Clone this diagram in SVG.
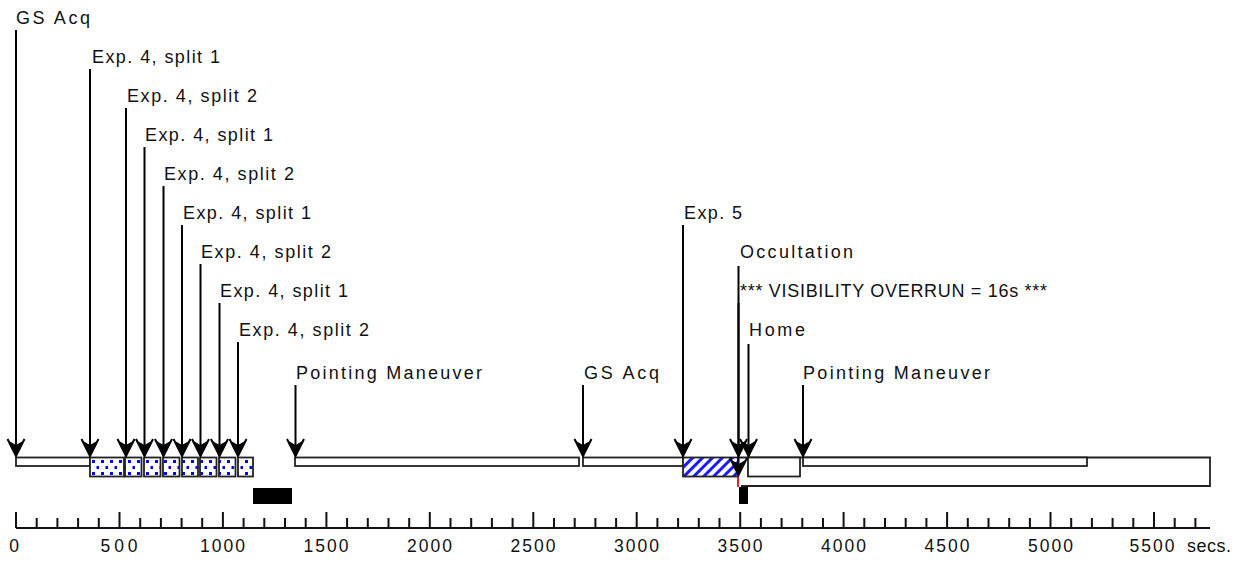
<svg xmlns="http://www.w3.org/2000/svg" width="1245" height="563" viewBox="0 0 1245 563">
<defs>
<style>
.lbl{font-family:"Liberation Sans",Arial,sans-serif;font-size:18px;fill:#111;}
.tk{font-family:"Liberation Sans",Arial,sans-serif;font-size:17.5px;fill:#111;text-anchor:middle;}
.bar{fill:#fff;stroke:#222;stroke-width:1.8;}
.ln{fill:none;stroke:#222;stroke-width:1.8;}
.arr{fill:none;stroke:#000;stroke-width:2;marker-end:url(#ah);}
.ax{fill:none;stroke:#111;stroke-width:2;}
</style>
<marker id="ah" markerUnits="userSpaceOnUse" markerWidth="24" markerHeight="24" viewBox="-20 -12 22 24" refX="0" refY="0" orient="auto" overflow="visible">
<path d="M-17,-8.5 L0,0 L-17,8.5" fill="none" stroke="#000" stroke-width="2"/>
<path d="M0,0 L-15,-7 L-11,0 L-15,7 Z" fill="#000"/>
</marker>
<pattern id="dots" patternUnits="userSpaceOnUse" width="9" height="12" x="90" y="458">
<rect width="9" height="12" fill="#fff"/>
<rect x="2" y="2" width="3" height="3" fill="#0000ff"/>
<rect x="6.5" y="8" width="3" height="3" fill="#0000ff"/>
</pattern>
<pattern id="hatch" patternUnits="userSpaceOnUse" width="7" height="7" patternTransform="rotate(45)">
<rect width="7" height="7" fill="#fff"/>
<rect width="3" height="7" fill="#1a1aff"/>
</pattern>
</defs>
<rect width="1245" height="563" fill="#fff"/>

<g id="bars">
<rect class="bar" x="16" y="457.5" width="74" height="8.5"/>
<rect class="bar" x="295" y="457.5" width="284" height="8.5"/>
<rect class="bar" x="583" y="457.5" width="100" height="8.5"/>
<path class="ln" d="M738,457.5 H1210 V486 H741"/>
<rect class="bar" x="803" y="457.5" width="284" height="8.5"/>
<rect class="bar" x="748" y="457.5" width="52" height="19"/>
<rect class="bar" x="90" y="457.5" width="34" height="19" style="fill:url(#dots)"/>
<rect class="bar" x="125" y="457.5" width="16.5" height="19" style="fill:url(#dots)"/>
<rect class="bar" x="144" y="457.5" width="16.5" height="19" style="fill:url(#dots)"/>
<rect class="bar" x="163" y="457.5" width="16.5" height="19" style="fill:url(#dots)"/>
<rect class="bar" x="182" y="457.5" width="16" height="19" style="fill:url(#dots)"/>
<rect class="bar" x="200" y="457.5" width="16.5" height="19" style="fill:url(#dots)"/>
<rect class="bar" x="219" y="457.5" width="16.5" height="19" style="fill:url(#dots)"/>
<rect class="bar" x="238" y="457.5" width="15" height="19" style="fill:url(#dots)"/>
<rect class="bar" x="683" y="457.5" width="55" height="19" style="fill:url(#hatch)"/>
<line x1="738" y1="476.5" x2="738" y2="487" stroke="#ff0000" stroke-width="1.8"/>
<rect x="253" y="488" width="39" height="16" fill="#000"/>
<rect x="739" y="487" width="9" height="17" fill="#000"/>
</g>

<g id="connectors">
<line class="arr" x1="16" y1="30" x2="16" y2="456"/>
<line class="arr" x1="90" y1="69" x2="90" y2="456"/>
<line class="arr" x1="126" y1="108" x2="126" y2="456"/>
<line class="arr" x1="144.5" y1="147" x2="144.5" y2="456"/>
<line class="arr" x1="163.5" y1="186" x2="163.5" y2="456"/>
<line class="arr" x1="182" y1="225" x2="182" y2="456"/>
<line class="arr" x1="200.5" y1="264" x2="200.5" y2="456"/>
<line class="arr" x1="219.5" y1="303" x2="219.5" y2="456"/>
<line class="arr" x1="238" y1="342" x2="238" y2="456"/>
<line class="arr" x1="295.5" y1="385" x2="295.5" y2="456"/>
<line class="arr" x1="583" y1="385" x2="583" y2="456"/>
<line class="arr" x1="683" y1="225" x2="683" y2="456"/>
<line class="arr" x1="738.5" y1="266" x2="738.5" y2="456"/>
<line class="arr" x1="738.5" y1="303" x2="738.5" y2="475"/>
<line class="arr" x1="748.5" y1="344" x2="748.5" y2="456"/>
<line class="arr" x1="803" y1="385" x2="803" y2="456"/>
</g>

<g id="n-gsacq1"><text class="lbl" x="16" y="24" textLength="74" lengthAdjust="spacing">GS Acq</text></g>
<g id="n-exp4-1a"><text class="lbl" x="92" y="63" textLength="128" lengthAdjust="spacing">Exp. 4, split 1</text></g>
<g id="n-exp4-2a"><text class="lbl" x="127" y="102" textLength="130" lengthAdjust="spacing">Exp. 4, split 2</text></g>
<g id="n-exp4-1b"><text class="lbl" x="145" y="141" textLength="128" lengthAdjust="spacing">Exp. 4, split 1</text></g>
<g id="n-exp4-2b"><text class="lbl" x="164" y="180" textLength="130" lengthAdjust="spacing">Exp. 4, split 2</text></g>
<g id="n-exp4-1c"><text class="lbl" x="183" y="219" textLength="128" lengthAdjust="spacing">Exp. 4, split 1</text></g>
<g id="n-exp4-2c"><text class="lbl" x="201" y="258" textLength="130" lengthAdjust="spacing">Exp. 4, split 2</text></g>
<g id="n-exp4-1d"><text class="lbl" x="220" y="297" textLength="128" lengthAdjust="spacing">Exp. 4, split 1</text></g>
<g id="n-exp4-2d"><text class="lbl" x="239" y="336" textLength="130" lengthAdjust="spacing">Exp. 4, split 2</text></g>
<g id="n-point1"><text class="lbl" x="296" y="379" textLength="186" lengthAdjust="spacing">Pointing Maneuver</text></g>
<g id="n-gsacq2"><text class="lbl" x="584" y="379" textLength="75" lengthAdjust="spacing">GS Acq</text></g>
<g id="n-exp5"><text class="lbl" x="684" y="219" textLength="58" lengthAdjust="spacing">Exp. 5</text></g>
<g id="n-occ"><text class="lbl" x="740" y="258" textLength="113" lengthAdjust="spacing">Occultation</text></g>
<g id="n-overrun"><text class="lbl" x="740" y="297" textLength="307" lengthAdjust="spacing">*** VISIBILITY OVERRUN = 16s ***</text></g>
<g id="n-home"><text class="lbl" x="749" y="336" textLength="56" lengthAdjust="spacing">Home</text></g>
<g id="n-point2"><text class="lbl" x="803" y="379" textLength="187" lengthAdjust="spacing">Pointing Maneuver</text></g>

<g id="axis">
<path class="ax" d="M16,528 H1210"/>
<path class="ax" d="M16,512V528 M119.5,512V528 M222.9,512V528 M326.4,512V528 M429.8,512V528 M533.3,512V528 M636.7,512V528 M740.2,512V528 M843.6,512V528 M947.1,512V528 M1050.5,512V528 M1154,512V528"/>
<path class="ax" d="M36.7,518V528 M57.4,518V528 M78.1,518V528 M98.8,518V528 M140.2,518V528 M160.9,518V528 M181.6,518V528 M202.2,518V528 M243.6,518V528 M264.3,518V528 M285,518V528 M305.7,518V528 M347.1,518V528 M367.8,518V528 M388.5,518V528 M409.2,518V528 M450.5,518V528 M471.2,518V528 M491.9,518V528 M512.6,518V528 M554,518V528 M574.7,518V528 M595.4,518V528 M616.1,518V528 M657.4,518V528 M678.1,518V528 M698.8,518V528 M719.5,518V528 M760.9,518V528 M781.6,518V528 M802.3,518V528 M823,518V528 M864.3,518V528 M885,518V528 M905.7,518V528 M926.4,518V528 M967.8,518V528 M988.5,518V528 M1009.2,518V528 M1029.9,518V528 M1071.2,518V528 M1091.9,518V528 M1112.6,518V528 M1133.3,518V528 M1174.7,518V528 M1195.4,518V528"/>
<text class="tk" x="14" y="552">0</text>
<text class="tk" x="119" y="552" textLength="37" lengthAdjust="spacing">500</text>
<text class="tk" x="222.5" y="552" textLength="45" lengthAdjust="spacing">1000</text>
<text class="tk" x="326" y="552" textLength="45" lengthAdjust="spacing">1500</text>
<text class="tk" x="429.5" y="552" textLength="45" lengthAdjust="spacing">2000</text>
<text class="tk" x="533" y="552" textLength="45" lengthAdjust="spacing">2500</text>
<text class="tk" x="636.5" y="552" textLength="45" lengthAdjust="spacing">3000</text>
<text class="tk" x="740" y="552" textLength="45" lengthAdjust="spacing">3500</text>
<text class="tk" x="843.5" y="552" textLength="45" lengthAdjust="spacing">4000</text>
<text class="tk" x="947" y="552" textLength="45" lengthAdjust="spacing">4500</text>
<text class="tk" x="1050.5" y="552" textLength="45" lengthAdjust="spacing">5000</text>
<text class="tk" x="1152" y="552" textLength="45" lengthAdjust="spacing">5500</text>
<text class="lbl" x="1187" y="552" textLength="44" lengthAdjust="spacing">secs.</text>
</g>
</svg>
